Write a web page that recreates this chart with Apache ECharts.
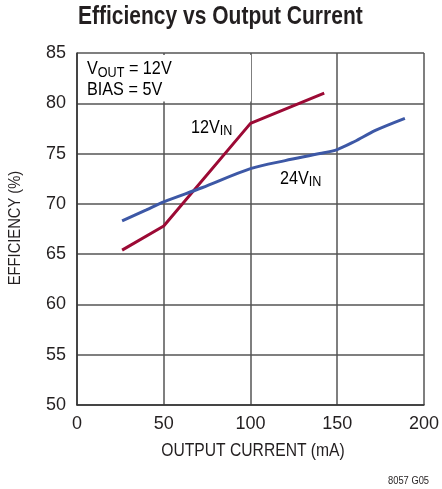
<!DOCTYPE html>
<html><head><meta charset="utf-8">
<script src="https://cdn.jsdelivr.net/npm/echarts@6/dist/echarts.min.js"></script>
<style>html,body{margin:0;padding:0;background:#fff}#c{width:442px;height:489px}</style>
</head><body><div id="c"></div>
<script>
var xTicks = [0, 50, 100, 150, 200];
var yTicks = [50, 55, 60, 65, 70, 75, 80, 85];
var vin12 = [[26, 65.4], [50, 67.8], [100, 78.0], [142.5, 81.0]];
var vin24 = [[26, 68.3], [40, 69.4], [50, 70.2], [72, 71.6], [100, 73.5], [120, 74.3], [140, 75.0], [150, 75.4], [160, 76.2], [172, 77.3], [189, 78.5]];

var FN = '"Liberation Sans", Arial, sans-serif';
var TC = '#231f20';
var chart = echarts.init(document.getElementById('c'));
var gridColor = '#555';
function sub(fs, sfs, lh, pad) {
  return {
    a: { fontFamily: FN, fontSize: fs, color: TC, lineHeight: lh },
    s: { fontFamily: FN, fontSize: sfs, color: TC, lineHeight: lh, padding: [pad, 0, 0, 0] }
  };
}
chart.setOption({
  animation: false,
  grid: { left: 77, top: 53, right: 13, bottom: 84, containLabel: false },
  xAxis: {
    type: 'value', min: xTicks[0], max: xTicks[xTicks.length - 1], interval: 50,
    axisLine: { show: true, lineStyle: { color: '#333', width: 1.5 } },
    axisTick: { show: false },
    axisLabel: { fontFamily: FN, fontSize: 18, color: TC, margin: 10 },
    splitLine: { show: true, lineStyle: { color: gridColor, width: 1.5 } }
  },
  yAxis: {
    type: 'value', min: yTicks[0], max: yTicks[yTicks.length - 1], interval: 5,
    axisLine: { show: true, lineStyle: { color: '#333', width: 1.5 } },
    axisTick: { show: false },
    axisLabel: { fontFamily: FN, fontSize: 18, color: TC, margin: 11 },
    splitLine: { show: true, lineStyle: { color: gridColor, width: 1.5 } }
  },
  graphic: [
    { type: 'text', z: 5, x: 78, y: 5, scaleX: 0.84, style: {
        text: 'Efficiency vs Output Current', fontFamily: FN, fontWeight: 'bold',
        fontSize: 25, fill: TC, textVerticalAlign: 'top'
    } },
    { type: 'text', z: 5, x: 253, y: 451, scaleX: 0.87, style: {
        text: 'OUTPUT CURRENT (mA)', fontFamily: FN, fontSize: 18, fill: TC,
        textAlign: 'center', textVerticalAlign: 'middle'
    } },
    { type: 'text', z: 5, x: 16, y: 228, rotation: Math.PI / 2, scaleX: 0.92, style: {
        text: 'EFFICIENCY (%)', fontFamily: FN, fontSize: 16, fill: TC,
        textAlign: 'center', textVerticalAlign: 'middle'
    } },
    { type: 'rect', z: 1, shape: { x: 79, y: 55, width: 172, height: 46.5 }, style: { fill: '#fff' } },
    { type: 'text', z: 5, x: 87, y: 59, scaleX: 0.9, style: {
        text: '{a|V}{s|OUT}{a| = 12V}\n{a|BIAS = 5V}', rich: sub(18, 14, 21, 7)
    } },
    { type: 'text', z: 5, x: 191, y: 118, scaleX: 0.9, style: {
        text: '{a|12V}{s|IN}', rich: sub(18, 14, 20, 7)
    } },
    { type: 'text', z: 5, x: 280, y: 169, scaleX: 0.9, style: {
        text: '{a|24V}{s|IN}', rich: sub(18, 14, 20, 7)
    } },
    { type: 'text', z: 5, x: 388, y: 475, scaleX: 0.85, style: {
        text: '8057 G05', fontFamily: FN, fontSize: 11, fill: TC
    } }
  ],
  series: [
    { type: 'line', data: vin12, showSymbol: false, z: 3,
      lineStyle: { color: '#9c0a35', width: 3 } },
    { type: 'line', data: vin24, showSymbol: false, smooth: 0.3, z: 3,
      lineStyle: { color: '#3d58a6', width: 3 } }
  ]
});
</script></body></html>
